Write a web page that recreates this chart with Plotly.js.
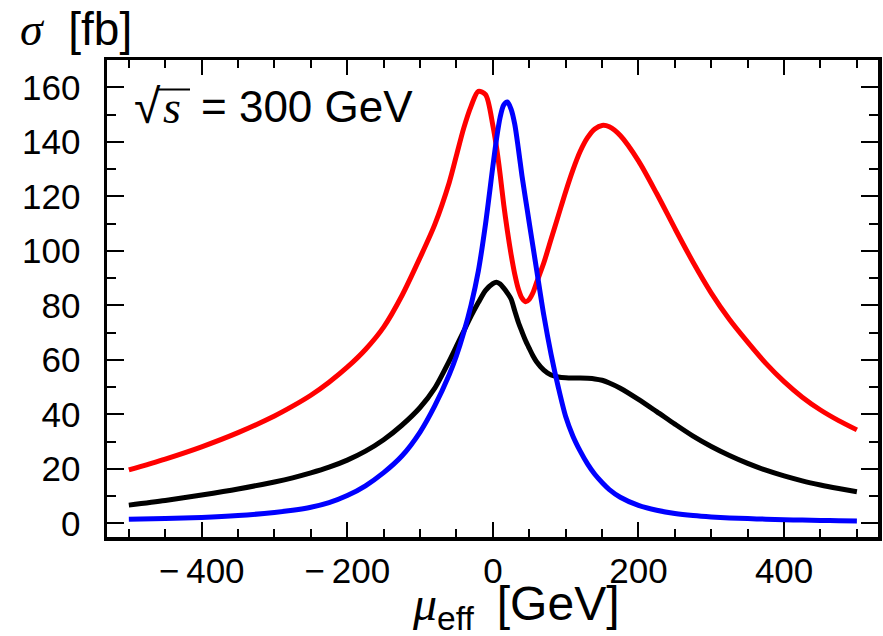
<!DOCTYPE html>
<html>
<head>
<meta charset="utf-8">
<script src="https://cdn.plot.ly/plotly-3.0.1.min.js"></script>
<style>html,body{margin:0;padding:0;background:#fff;}</style>
</head>
<body>
<div id="chart" style="width:883px;height:636px;"></div>
<script>
// mu_eff [GeV]
const mu = [-500,-450,-400,-350,-300,-275,-250,-225,-200,-175,-150,-125,-100,-80,-60,-50,-40,-30,-20,-10,
            0,5,10,15,20,25,30,35,40,45,50,55,60,70,80,90,100,110,120,130,140,150,160,
            175,200,225,250,275,300,325,350,375,400,425,450,475,500];
// sigma [fb]
const sigmaRed = [19.6,23.6,28.1,33.3,39.4,43,47,51.8,57.3,63.8,72,83.5,97.5,109.5,125,135,145,153,158.5,157.3,
                  146,138,128,116.8,107.2,98.7,91.5,86,82.6,81.3,82.2,84.6,88.3,95.6,104.3,113,121.7,129.7,136.5,141.5,144.7,146,145.5,
                  142.3,133,121,108.2,95.8,84.5,74.8,66.5,58.7,52,46.3,41.6,37.7,34.3];
const sigmaBlack = [6.7,8.4,10.4,12.6,15.2,16.7,18.5,20.6,23.2,26.5,30.7,36,42.5,49.5,59.5,65,70.5,76,81,85.5,
                    88,88.5,87.8,86.3,84.5,82.3,78,73.8,70.3,67,64.2,61.5,59.3,56.2,54.4,53.7,53.4,53.3,53.3,53.2,53,52.5,51.5,
                    49.6,45.5,41,36.4,32,28.2,24.9,22,19.5,17.4,15.6,14.1,12.8,11.6];
const sigmaBlue = [1.5,1.75,2.15,2.85,4.0,4.8,5.9,7.6,10.2,13.8,18.6,24.7,33.5,43,54.5,61.5,70,80,92.5,110,
                   131,141,149,153.5,154.6,152,146.5,137.5,127.5,118.8,110.2,101.7,93.2,76.3,62,49.8,39.2,32,26.5,21.8,18,15,12.4,
                   9.6,6.6,4.8,3.6,2.85,2.35,2.0,1.75,1.55,1.35,1.2,1.07,0.95,0.85];

const xTickVals = [-400,-200,0,200,400];
const xTickText = ['\u2212\u2009400','\u2212\u2009200','0','200','400'];
const yTickVals = [0,20,40,60,80,100,120,140,160];
const yTickText = ['0','20','40','60','80','100','120','140','160'];

const lineStyle = (c) => ({color: c, width: 5, shape: 'spline', smoothing: 0.8, simplify: false});
const traces = [
  {x: mu, y: sigmaRed, mode: 'lines', line: lineStyle('#ff0000'), name: 'red'},
  {x: mu, y: sigmaBlack, mode: 'lines', line: lineStyle('#000000'), name: 'black'},
  {x: mu, y: sigmaBlue, mode: 'lines', line: lineStyle('#0000ff'), name: 'blue'}
];

const fontFam = '"Liberation Sans", Arial, sans-serif';
const serif = '"Liberation Serif", "Times New Roman", serif';
const serifCss = serif.replace(/"/g, "'");
const axisCommon = {
  showline: true, linewidth: 3.5, linecolor: '#000', mirror: 'ticks',
  ticks: 'inside', tickwidth: 2, tickcolor: '#000',
  showgrid: false, zeroline: false,
  tickfont: {family: fontFam, size: 35, color: '#000'}
};

// pixel -> paper helpers for text placement
const PL = 107, PW = 771, PB = 537, PH = 477;
const px = (x) => (x - PL) / PW;
const py = (y) => (PB - y) / PH;

const layout = {
  width: 883, height: 636,
  margin: {l: 107, r: 5, t: 60, b: 99},
  paper_bgcolor: '#fff', plot_bgcolor: '#fff',
  showlegend: false,
  xaxis: Object.assign({}, axisCommon, {
    range: [-530, 529], tickmode: 'array', tickvals: xTickVals, ticktext: xTickText,
    ticklen: 15,
    minor: {tickmode: 'linear', tick0: 0, dtick: 50, ticks: 'inside', ticklen: 8, tickwidth: 2, tickcolor: '#000', showgrid: false}
  }),
  yaxis: Object.assign({}, axisCommon, {
    range: [-5, 170], tickmode: 'array', tickvals: yTickVals, ticktext: yTickText,
    ticklen: 17, ticklabelstandoff: 16,
    minor: {tickmode: 'linear', tick0: 0, dtick: 10, ticks: 'inside', ticklen: 9, tickwidth: 2, tickcolor: '#000', showgrid: false}
  }),
  shapes: [
    {type: 'line', xref: 'paper', yref: 'paper', x0: px(157), x1: px(190), y0: py(89.5), y1: py(89.5),
     line: {color: '#000', width: 2}}
  ],
  annotations: [
    {xref: 'paper', yref: 'paper', x: px(18), y: py(1), xanchor: 'left', yanchor: 'top', showarrow: false,
     text: '<span style="font-family:' + serifCss + ';font-style:italic">σ</span>\u00A0\u00A0[fb]',
     font: {family: fontFam, size: 46, color: '#000'}},
    {xref: 'paper', yref: 'paper', x: px(410), y: py(575), xanchor: 'left', yanchor: 'top', showarrow: false,
     text: '<span style="font-family:' + serifCss + ';font-style:italic">μ</span><sub>eff</sub>\u00A0\u2009[GeV]',
     font: {family: fontFam, size: 48, color: '#000'}},
    {xref: 'paper', yref: 'paper', x: px(132), y: py(78), xanchor: 'left', yanchor: 'top', showarrow: false,
     text: '√', font: {family: fontFam, size: 48, color: '#000'}},
    {xref: 'paper', yref: 'paper', x: px(161), y: py(80), xanchor: 'left', yanchor: 'top', showarrow: false,
     text: '<i>s</i>', font: {family: serif, size: 46, color: '#000'}},
    {xref: 'paper', yref: 'paper', x: px(199), y: py(80), xanchor: 'left', yanchor: 'top', showarrow: false,
     text: '= 300 GeV', font: {family: fontFam, size: 44, color: '#000'}}
  ]
};

Plotly.newPlot('chart', traces, layout, {staticPlot: true, displayModeBar: false});
</script>
</body>
</html>
